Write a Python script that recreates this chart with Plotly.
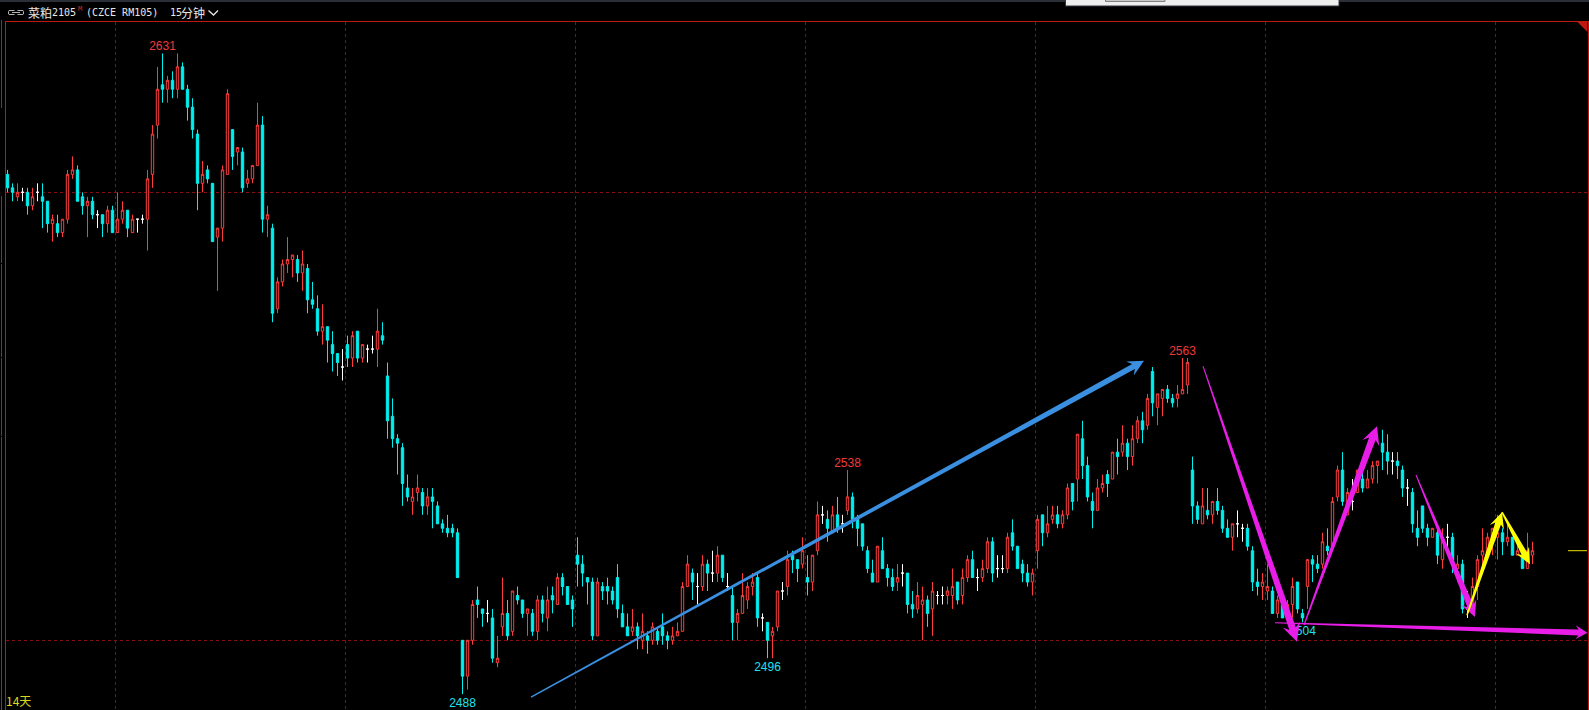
import plotly.graph_objects as go
import math

# ---- chart data (index = bar number, prices in yuan/ton) ----
open_ = [2604,2601,2599,2600,2600,2597,2600,2599,2598,2593,
2593,2591,2594,2604,2605,2599,2597,2598,2595,2595,
2593,2596,2591,2594,2596,2591,2594,2594,2594,2604,
2615,2624,2623,2625,2623,2628,2623,2619,2613,2602,
2605,2602,2590,2592,2604,2614,2609,2609,2602,2603,
2606,2615,2594,2592,2574,2580,2584,2585,2585,2582,
2583,2576,2574,2569,2570,2566,2564,2561,2566,2563,
2569,2563,2565,2565,2565,2568,2559,2550,2545,2543,
2534,2531,2533,2533,2530,2532,2530,2526,2525,2525,
2524,2500,2492,2500,2509,2507,2506,2505,2495,2503,
2506,2502,2510,2509,2506,2506,2502,2509,2505,2510,
2508,2514,2512,2509,2519,2517,2514,2513,2501,2512,
2512,2511,2514,2506,2503,2502,2503,2500,2501,2500,
2502,2503,2501,2500,2501,2502,2512,2515,2512,2512,
2517,2515,2515,2519,2512,2510,2504,2506,2509,2512,
2514,2505,2504,2501,2503,2511,2512,2519,2518,2517,
2514,2513,2520,2528,2527,2524,2528,2526,2529,2532,
2527,2526,2520,2515,2513,2520,2516,2514,2513,2515,
2515,2508,2507,2508,2509,2507,2510,2510,2510,2510,
2513,2510,2514,2518,2514,2514,2516,2522,2516,2516,
2516,2524,2521,2517,2515,2513,2520,2528,2524,2527,
2528,2526,2528,2535,2536,2545,2539,2531,2529,2534,
2537,2536,2542,2542,2544,2541,2545,2549,2548,2560,
2552,2554,2556,2554,2554,2555,2557,2538,2530,2526,
2529,2528,2531,2529,2525,2523,2526,2525,2525,2520,
2513,2512,2511,2511,2506,2508,2506,2508,2513,2506,
2512,2518,2517,2517,2521,2521,2532,2538,2528,2531,
2533,2536,2534,2536,2539,2544,2542,2540,2540,2538,
2534,2533,2525,2530,2525,2523,2524,2518,2523,2523,
2516,2517,2507,2507,2512,2519,2519,2522,2523,2524,
2522,2523,2519,2519,2516,2519]

close = [2601,2600,2600,2600,2597,2599,2600,2598,2593,2594,
2591,2594,2604,2605,2598,2597,2598,2595,2595,2593,
2596,2591,2594,2596,2592,2594,2594,2594,2603,2613,
2623,2623,2625,2623,2628,2623,2619,2614,2602,2604,
2603,2589,2592,2605,2622,2608,2610,2601,2603,2606,
2615,2594,2595,2573,2580,2584,2585,2586,2582,2584,
2576,2575,2569,2570,2567,2564,2562,2561,2563,2568,
2563,2566,2565,2565,2569,2567,2549,2545,2544,2535,
2532,2532,2534,2530,2532,2531,2526,2525,2524,2524,
2514,2492,2500,2508,2508,2506,2506,2496,2496,2506,
2501,2511,2509,2506,2507,2502,2509,2506,2509,2509,
2514,2512,2508,2507,2517,2515,2513,2501,2513,2511,
2511,2509,2507,2503,2501,2503,2501,2502,2500,2503,
2500,2501,2500,2501,2502,2512,2517,2513,2512,2517,
2515,2515,2519,2514,2512,2504,2506,2510,2512,2513,
2505,2505,2500,2502,2511,2511,2518,2518,2516,2520,
2513,2519,2528,2528,2525,2528,2525,2526,2532,2527,
2525,2521,2516,2513,2521,2516,2514,2512,2514,2515,
2508,2507,2510,2509,2506,2511,2510,2510,2511,2512,
2509,2514,2518,2514,2514,2516,2522,2515,2516,2516,
2523,2521,2516,2515,2513,2515,2527,2524,2526,2528,
2526,2528,2534,2531,2546,2539,2532,2529,2534,2535,
2535,2542,2541,2544,2541,2545,2549,2547,2554,2553,
2555,2556,2554,2553,2555,2556,2562,2530,2527,2530,
2528,2531,2529,2525,2523,2526,2526,2525,2521,2513,
2512,2513,2512,2506,2509,2505,2508,2512,2507,2505,
2518,2517,2516,2522,2520,2531,2538,2531,2533,2531,
2538,2534,2536,2539,2540,2542,2540,2540,2539,2534,
2534,2526,2523,2525,2523,2525,2519,2523,2523,2517,
2517,2507,2507,2512,2518,2520,2523,2525,2524,2522,
2523,2519,2520,2516,2520,2520]

high = [2605,2602,2602,2601,2601,2601,2602,2602,2598,2595,
2595,2594,2605,2608,2606,2600,2599,2599,2596,2595,
2597,2597,2600,2598,2596,2595,2594,2595,2605,2615,
2628,2631,2626,2627,2631,2629,2624,2621,2614,2607,
2606,2602,2592,2606,2623,2614,2610,2610,2605,2606,
2620,2617,2597,2593,2581,2585,2590,2586,2586,2587,
2584,2580,2577,2575,2570,2569,2564,2565,2568,2569,
2569,2566,2566,2568,2574,2571,2562,2554,2546,2544,
2537,2534,2537,2534,2534,2534,2531,2527,2528,2526,
2525,2500,2500,2509,2512,2507,2509,2507,2501,2514,
2509,2511,2512,2509,2507,2507,2510,2510,2512,2512,
2515,2515,2512,2510,2523,2519,2514,2514,2514,2513,
2514,2512,2517,2508,2506,2507,2504,2506,2502,2504,
2503,2506,2502,2503,2504,2513,2519,2516,2515,2519,
2518,2520,2521,2519,2515,2512,2507,2515,2513,2515,
2515,2506,2504,2503,2511,2513,2520,2520,2518,2523,
2519,2519,2531,2530,2529,2530,2532,2528,2538,2533,
2528,2526,2521,2518,2521,2523,2517,2516,2517,2517,
2515,2511,2513,2512,2510,2513,2511,2512,2512,2516,
2513,2516,2519,2520,2516,2518,2523,2523,2519,2519,
2524,2527,2521,2518,2517,2516,2528,2528,2530,2530,
2530,2529,2535,2535,2546,2549,2541,2533,2536,2537,
2538,2542,2545,2548,2545,2548,2550,2551,2555,2561,
2555,2556,2557,2555,2557,2563,2563,2541,2531,2534,
2534,2531,2534,2530,2527,2526,2529,2526,2526,2521,
2516,2515,2517,2512,2510,2508,2509,2514,2513,2507,
2518,2519,2519,2524,2525,2532,2539,2542,2534,2536,
2538,2538,2538,2540,2540,2547,2546,2542,2542,2539,
2536,2534,2529,2530,2526,2525,2525,2525,2526,2524,
2519,2518,2511,2514,2519,2525,2524,2525,2528,2525,
2526,2523,2522,2521,2524,2522]

low = [2600,2598,2598,2598,2595,2596,2598,2592,2591,2589,
2590,2590,2593,2603,2598,2595,2590,2594,2592,2590,
2591,2591,2591,2593,2590,2591,2591,2593,2587,2601,
2612,2620,2620,2621,2621,2623,2616,2612,2596,2600,
2602,2589,2578,2589,2604,2605,2606,2600,2601,2602,
2606,2591,2590,2571,2573,2579,2582,2581,2580,2578,
2573,2574,2568,2566,2562,2560,2559,2558,2561,2561,
2562,2562,2562,2564,2561,2566,2545,2543,2537,2530,
2531,2528,2531,2528,2528,2525,2526,2524,2523,2523,
2514,2488,2489,2499,2505,2503,2504,2495,2494,2501,
2500,2501,2508,2505,2501,2501,2500,2504,2502,2506,
2508,2510,2508,2503,2512,2512,2508,2500,2501,2509,
2508,2508,2505,2503,2501,2501,2498,2498,2497,2499,
2499,2499,2498,2499,2501,2502,2512,2509,2508,2511,
2511,2513,2513,2513,2511,2500,2500,2506,2507,2510,
2503,2502,2496,2496,2502,2509,2510,2515,2513,2516,
2510,2511,2519,2526,2522,2524,2524,2524,2528,2525,
2521,2520,2515,2513,2513,2516,2512,2511,2511,2512,
2506,2505,2506,2500,2503,2501,2508,2508,2508,2507,
2508,2508,2513,2514,2511,2513,2515,2513,2514,2515,
2515,2520,2516,2513,2512,2510,2516,2521,2523,2526,
2525,2525,2527,2529,2531,2536,2531,2525,2529,2533,
2532,2536,2537,2541,2538,2539,2544,2544,2547,2550,
2548,2550,2553,2552,2552,2555,2555,2526,2526,2526,
2527,2526,2528,2524,2523,2520,2523,2522,2520,2511,
2510,2509,2509,2506,2505,2505,2505,2505,2506,2504,
2507,2513,2515,2516,2519,2521,2531,2530,2528,2529,
2533,2533,2534,2535,2535,2538,2537,2537,2536,2532,
2530,2524,2521,2524,2521,2523,2517,2516,2519,2515,
2513,2506,2505,2507,2509,2516,2518,2519,2518,2519,
2521,2519,2519,2516,2516,2517]

# extreme-price labels: bar, price, text colour group
label_bars = [31, 235, 168, 152, 91, 259]
label_prices = [2631, 2563, 2538, 2496, 2488, 2504]
label_up = [True, True, True, False, False, False]

# horizontal and vertical guide lines
grid_prices = [2500, 2600]
grid_bars = [21.6, 67.6, 113.6, 159.6, 205.6, 251.6, 297.6]
last_price = 2520

# hand-drawn arrows: start bar, start price, tip bar, tip price
arrow_blue = (104.7, 2487.3, 227.3, 2562.4)
arrow_m1 = (239.1, 2561.2, 257.9, 2499.7)
arrow_m2 = (259.3, 2503.4, 273.9, 2547.8)
arrow_m3 = (281.7, 2536.9, 293.5, 2505.2)
arrow_m4 = (253.5, 2503.9, 316.0, 2501.7)
arrow_y1 = (291.9, 2505.6, 298.9, 2528.6)
arrow_y2 = (298.9, 2528.6, 304.5, 2517.0)

# ---- styling ----
W, H = 1589, 710
PX_BAR, PX_PRICE = 5.0, 4.48      # pixels per bar / per price unit
FIRST_BAR_PX = 7.5
L, R, T, B = 5.5, 1587.5, 21.5, 709.5
RED, CYAN, WHITE = "#ff3c3c", "#00efef", "#ffffff"
BORDER = "#c0180e"
GRID = "#8c0d0d"
MAGENTA, YELLOW, BLUE = "#e81ee8", "#ffff00", "#3a8fe0"

px = lambda x: x / W
py = lambda y: 1 - y / H

bars = list(range(len(close)))
groups = {
    "up": ([i for i in bars if close[i] > open_[i]], RED, "#000000"),
    "down": ([i for i in bars if close[i] < open_[i]], CYAN, CYAN),
    "flat": ([i for i in bars if close[i] == open_[i]], WHITE, WHITE),
}

fig = go.Figure()
for name, (idx, line, fill) in groups.items():
    style = dict(line=dict(color=line, width=1), fillcolor=fill)
    fig.add_trace(go.Candlestick(
        x=idx,
        open=[open_[i] for i in idx], high=[high[i] for i in idx],
        low=[low[i] for i in idx], close=[close[i] for i in idx],
        increasing=style, decreasing=style,
        whiskerwidth=0, hoverinfo="skip", name=name, showlegend=False,
    ))

# extreme labels drawn as a trace so the arrows pass over them
LOW_LABEL_GAP = 0.9   # price units between a low and its label anchor
for want_up, color, pos, gap in ((True, "#f03a3a", "top center", 0.0),
                                 (False, "#1fe0f0", "bottom center", LOW_LABEL_GAP)):
    sel = [k for k, u in enumerate(label_up) if u == want_up]
    fig.add_trace(go.Scatter(
        x=[label_bars[k] for k in sel], y=[label_prices[k] - gap for k in sel],
        text=[str(label_prices[k]) for k in sel], mode="text",
        textposition=pos, textfont=dict(family="Liberation Sans", size=12, color=color),
        hoverinfo="skip", showlegend=False, cliponaxis=False,
    ))


def arrow(spec, color, w0, w1, head_len, head_w):
    """Tapered arrow as a filled path, given in data coordinates."""
    x0, y0, x1, y1 = spec
    ax, ay = x0 * PX_BAR, -y0 * PX_PRICE
    bx, by = x1 * PX_BAR, -y1 * PX_PRICE
    d = math.hypot(bx - ax, by - ay)
    ux, uy = (bx - ax) / d, (by - ay) / d
    nx, ny = -uy, ux
    neck = (bx - ux * head_len * 0.75, by - uy * head_len * 0.75)
    barb = (bx - ux * head_len, by - uy * head_len)
    pts = [
        (ax + nx * w0 / 2, ay + ny * w0 / 2),
        (neck[0] + nx * w1 / 2, neck[1] + ny * w1 / 2),
        (barb[0] + nx * head_w / 2, barb[1] + ny * head_w / 2),
        (bx, by),
        (barb[0] - nx * head_w / 2, barb[1] - ny * head_w / 2),
        (neck[0] - nx * w1 / 2, neck[1] - ny * w1 / 2),
        (ax - nx * w0 / 2, ay - ny * w0 / 2),
    ]
    path = "M " + " L ".join(f"{p[0] / PX_BAR:.3f} {-p[1] / PX_PRICE:.3f}" for p in pts) + " Z"
    return dict(type="path", xref="x", yref="y", path=path, fillcolor=color,
                line=dict(width=0), layer="above")


shapes = [
    arrow(arrow_blue, BLUE, 1.5, 5.5, 16, 16),
    arrow(arrow_m1, MAGENTA, 1.0, 7.0, 18, 18),
    arrow(arrow_m2, MAGENTA, 1.2, 7.0, 18, 18),
    arrow(arrow_m3, MAGENTA, 1.0, 6.5, 16, 16),
    arrow(arrow_m4, MAGENTA, 1.0, 6.0, 12, 14),
    arrow(arrow_y1, YELLOW, 1.5, 6.0, 16, 15),
    arrow(arrow_y2, YELLOW, 1.5, 6.0, 16, 15),
]


def rect(x0, y0, x1, y1, fill, line=None):
    return dict(type="rect", xref="paper", yref="paper", x0=px(x0), x1=px(x1),
                y0=py(y1), y1=py(y0), fillcolor=fill,
                line=dict(width=1 if line else 0, color=line or fill))


def seg(x0, y0, x1, y1, color, width=1):
    return dict(type="line", xref="paper", yref="paper", x0=px(x0), x1=px(x1),
                y0=py(y0), y1=py(y1), line=dict(color=color, width=width))


# window chrome around the chart
shapes += [
    rect(0, 0, W, 2, "#2b3038"),
    rect(1065.5, -2, 1339, 6, "#eeeeee", "#30343a"),
    rect(1105.5, -2, 1165, 1.4, "#d0d0d0", "#777777"),
    seg(1.5, 20, 1.5, 108, "#4a4a4a"), seg(1.5, 196, 1.5, 263, "#4a4a4a"),
    seg(1.5, 264, 1.5, 357, "#4a4a4a"), seg(1.5, 358, 1.5, 436, "#4a4a4a"),
    seg(1.5, 437, 1.5, 710, "#4a4a4a"),
    seg(1587.5, 34.5, W, 34.5, BORDER), seg(1587.5, 581.5, W, 581.5, BORDER),
    dict(type="path", xref="paper", yref="paper",
         path=f"M {px(1577)} {py(21.5)} L {px(1587.5)} {py(21.5)} L {px(1587.5)} {py(32)} Z",
         fillcolor=BORDER, line=dict(width=0)),
    # link icon
    dict(type="path", xref="paper", yref="paper",
         path=" ".join([
             f"M {px(14.5)} {py(10.5)} L {px(9)} {py(10.5)} L {px(8.5)} {py(11.5)} L {px(8.5)} {py(14)}",
             f"L {px(9)} {py(14.5)} L {px(14.5)} {py(14.5)}",
             f"M {px(17.5)} {py(10.5)} L {px(23)} {py(10.5)} L {px(23.5)} {py(11.5)} L {px(23.5)} {py(14)}",
             f"L {px(23)} {py(14.5)} L {px(17.5)} {py(14.5)}",
             f"M {px(12)} {py(12.5)} L {px(20)} {py(12.5)}",
         ]), line=dict(color="#b4b4b4", width=1)),
    # chevron
    dict(type="path", xref="paper", yref="paper",
         path=f"M {px(208.5)} {py(10.5)} L {px(213.5)} {py(15)} L {px(218)} {py(10.5)}",
         line=dict(color="#e6e6e6", width=1.3)),
    # last-price marker
    dict(type="line", xref="paper", yref="y", x0=px(1568), x1=px(1587), y0=last_price, y1=last_price,
         line=dict(color="#f0e000", width=1)),
]


def label(x, y, text, size, color, family):
    return dict(xref="paper", yref="paper", x=px(x), y=py(y), text=text, showarrow=False,
                xanchor="left", yanchor="middle", borderpad=0, borderwidth=0,
                font=dict(size=size, color=color, family=family))


CJK = "Noto Sans CJK SC"
MONO = "DejaVu Sans Mono"
annotations = [
    label(27.5, 12.5, "菜粕", 12, "#e8e8e8", CJK),
    label(52, 12.5, "2105", 10, "#e8e8e8", MONO),
    label(77.5, 9.5, "M", 7, "#c03030", MONO),
    label(86, 12.5, "(CZCE RM105)", 10, "#e8e8e8", MONO),
    label(170, 12.5, "15", 10, "#e8e8e8", MONO),
    label(181, 12.5, "分钟", 12, "#e8e8e8", CJK),
    label(5.5, 700.5, "14天", 12, "#d8d820", CJK),
]

axis_common = dict(showline=True, mirror=True, linecolor=BORDER, linewidth=1,
                   showticklabels=False, ticks="", zeroline=False, showgrid=True,
                   gridcolor=GRID, gridwidth=1, griddash="3px,3px", fixedrange=True)
fig.update_layout(
    width=W, height=H, margin=dict(l=0, r=0, t=0, b=0, pad=0),
    paper_bgcolor="#000000", plot_bgcolor="#000000", showlegend=False,
    boxgap=0.52, boxgroupgap=0, shapes=shapes, annotations=annotations,
    xaxis=dict(domain=[px(L), px(R)], range=[(L - FIRST_BAR_PX) / PX_BAR, (R - FIRST_BAR_PX) / PX_BAR],
               tickmode="array", tickvals=grid_bars, rangeslider=dict(visible=False), **axis_common),
    yaxis=dict(domain=[py(B), py(T)], range=[2500 + (640.3 - B) / PX_PRICE, 2500 + (640.3 - T) / PX_PRICE],
               tickmode="array", tickvals=grid_prices, **axis_common),
)

fig.write_html("out.html", config=dict(displayModeBar=False),
               post_script="document.body.style.margin='0';document.body.style.overflow='hidden';document.body.style.background='#000';")
